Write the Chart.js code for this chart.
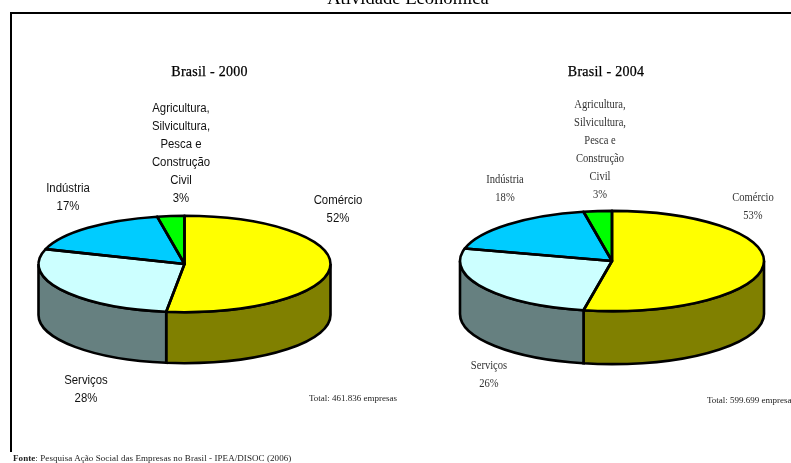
<!DOCTYPE html>
<html>
<head>
<meta charset="utf-8">
<script src="https://cdn.jsdelivr.net/npm/chart.js@4"></script>
<style>
  html, body { margin: 0; padding: 0; background: #fff; }
  #page { position: relative; width: 791px; height: 463px; overflow: hidden; filter: blur(0.45px); }
  canvas { position: absolute; left: 0; top: 0; }
  #frame { position: absolute; left: 10px; top: 12px; width: 790px; height: 438px; border-left: 2.5px solid #000; border-top: 2.5px solid #000; }
  .t { position: absolute; white-space: pre; line-height: 18px; text-align: center; transform: translate(-50%, -9px); }
  .sans { font: 12.5px/18.1px "Liberation Sans", sans-serif; color: #111; transform: translate(-50%, -9px) scaleX(0.91); }
  .serif { font: 12px/18px "Liberation Serif", serif; color: #333; transform: translate(-50%, -9px) scaleX(0.88); }
  .head { font: 14px/18px "Liberation Serif", serif; color: #000; letter-spacing: 0.25px; -webkit-text-stroke: 0.25px #000; }
  .title { font-size: 18.6px; letter-spacing: 0; -webkit-text-stroke: 0; }
  .small { font: 9px/12px "Liberation Serif", serif; color: #222; text-align: left; transform: translate(0, -6px); }
</style>
</head>
<body>
<div id="page">
  <div id="frame"></div>
  <canvas id="pie2000" width="791" height="463"></canvas>
  <canvas id="pie2004" width="791" height="463"></canvas>
</div>
<script>
const categories = ["Comércio", "Serviços", "Indústria", "Agricultura,\nSilvicultura,\nPesca e\nConstrução\nCivil"];
const valores2000 = [52, 28, 17, 3];
const valores2004 = [53, 26, 18, 3];

const topColors = ["#ffff00", "#ccffff", "#00ccff", "#00ff00"];
const wallColors = ["#808000", "#668080", "#006680", "#008000"];

// squashes the round pie into an ellipse and adds the side wall
const pie3d = {
  id: "pie3d",
  beforeDatasetsDraw(chart, args, opts) {
    const ctx = chart.ctx;
    const arcs = chart.getDatasetMeta(0).data;
    const cx = arcs[0].x, cy = arcs[0].y;
    const r = arcs[0].outerRadius;
    const k = opts.ratio, d = opts.depth;
    arcs.forEach((arc, i) => {
      // only the front half of the pie shows a wall
      let a1 = arc.startAngle, a2 = arc.endAngle;
      if (a1 < 0) a1 = 0;
      if (a2 > Math.PI) a2 = Math.PI;
      if (a2 <= a1) return;
      ctx.beginPath();
      ctx.ellipse(cx, cy + d, r, r * k, 0, a1, a2);
      ctx.lineTo(cx + r * Math.cos(a2), cy + r * k * Math.sin(a2));
      ctx.ellipse(cx, cy, r, r * k, 0, a2, a1, true);
      ctx.closePath();
      ctx.fillStyle = wallColors[i];
      ctx.fill();
      ctx.lineWidth = 2.6;
      ctx.strokeStyle = "#000";
      ctx.stroke();
    });
    ctx.save();
    ctx.translate(cx, cy);
    ctx.scale(1, k);
    ctx.translate(-cx, -cy);
  },
  afterDatasetsDraw(chart, args, opts) {
    const ctx = chart.ctx;
    ctx.restore();
    const arcs = chart.getDatasetMeta(0).data;
    const k = opts.ratio;
    arcs.forEach(arc => {
      ctx.beginPath();
      ctx.moveTo(arc.x, arc.y);
      ctx.ellipse(arc.x, arc.y, arc.outerRadius, arc.outerRadius * k, 0, arc.startAngle, arc.endAngle);
      ctx.closePath();
      ctx.lineWidth = 2.6;
      ctx.lineJoin = "round";
      ctx.strokeStyle = "#000";
      ctx.stroke();
    });
  }
};

function makePie(id, values, padding, ratio, depth) {
  return new Chart(document.getElementById(id), {
    type: "pie",
    data: {
      labels: categories,
      datasets: [{ data: values, backgroundColor: topColors, borderWidth: 0, clip: false }]
    },
    options: {
      responsive: false,
      animation: false,
      events: [],
      layout: { padding: padding },
      plugins: {
        legend: { display: false },
        tooltip: { enabled: false },
        pie3d: { ratio: ratio, depth: depth }
      }
    },
    plugins: [pie3d]
  });
}

makePie("pie2000", valores2000, { left: 38.5, right: 460.5, top: 118, bottom: 53 }, 0.33, 51);
makePie("pie2004", valores2004, { left: 460, right: 27, top: 109, bottom: 50 }, 0.33, 53);

function addText(text, cls, x, y) {
  const el = document.createElement("div");
  el.className = "t " + cls;
  el.textContent = text;
  el.style.left = x + "px";
  el.style.top = y + "px";
  document.getElementById("page").appendChild(el);
  return el;
}

function labelPie(values, cls, spots) {
  categories.forEach((name, i) => {
    addText(name + "\n" + values[i] + "%", cls, spots[i][0], spots[i][1]);
  });
}

addText("Atividade Econômica", "head title", 408, -2);
addText("Brasil - 2000", "head", 209.5, 72);
addText("Brasil - 2004", "head", 606, 72);

labelPie(valores2000, "sans", [[338, 200], [86, 380], [68, 188], [180.5, 108]]);
labelPie(valores2004, "serif", [[753, 197], [489, 365], [505, 179], [600, 104]]);

addText("Total: 461.836 empresas", "small", 309, 398);
addText("Total: 599.699 empresas", "small", 707, 400);

const fonte = addText("", "small", 13, 458);
fonte.style.letterSpacing = "0.07px";
fonte.innerHTML = "<b>Fonte</b>: Pesquisa Ação Social das Empresas no Brasil - IPEA/DISOC (2006)";
</script>
</body>
</html>
